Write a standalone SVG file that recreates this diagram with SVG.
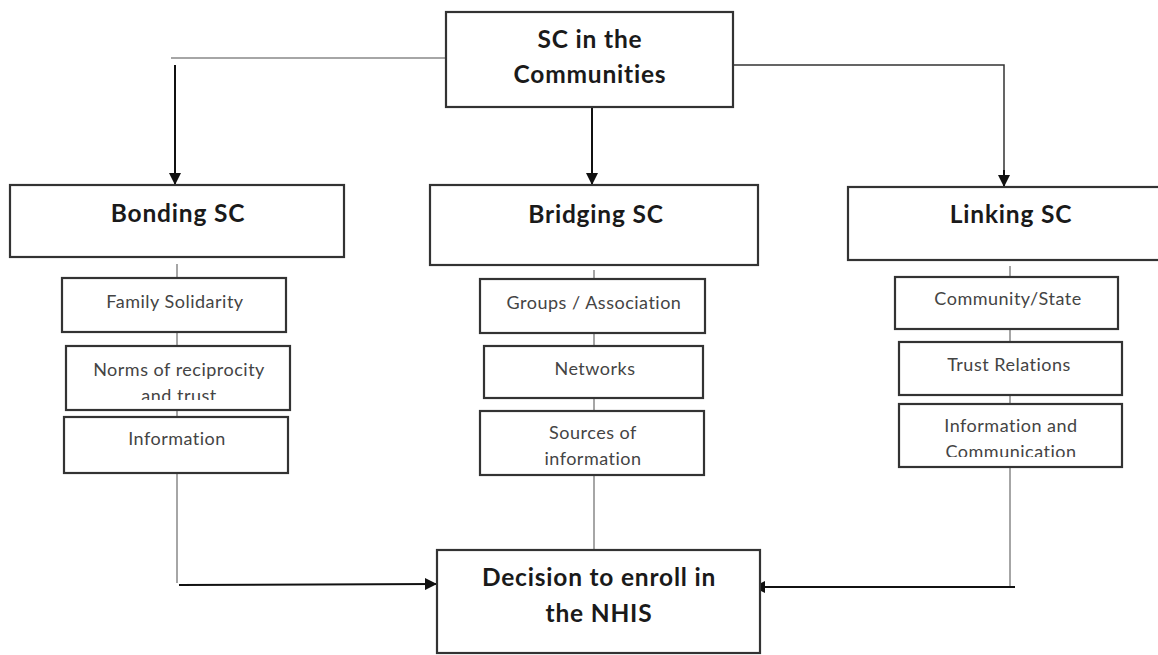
<svg xmlns="http://www.w3.org/2000/svg" width="1158" height="655" viewBox="0 0 1158 655">
  <style>
    .box { fill: #fff; stroke: #333; stroke-width: 2.2; }
    .title { font-family: Lato, "Open Sans", "Liberation Sans", sans-serif; font-weight: 700; font-size: 24.5px; letter-spacing: 0.8px; fill: #1a1a1a; text-anchor: middle; font-variant-ligatures: none; }
    .item { font-family: Lato, "Open Sans", "Liberation Sans", sans-serif; font-size: 18px; letter-spacing: 0.5px; fill: #444; text-anchor: middle; font-variant-ligatures: none; }
    .thin { fill: none; stroke: #888; stroke-width: 1.5; }
    .arrow { fill: none; stroke: #111; stroke-width: 2; marker-end: url(#head); }
    .rule { fill: none; stroke: #333; stroke-width: 1.5; }
  </style>
  <defs>
    <marker id="head" viewBox="0 0 12 12" refX="11" refY="6" markerWidth="12" markerHeight="12" markerUnits="userSpaceOnUse" orient="auto">
      <path d="M0,0 L12,6 L0,12 Z" fill="#111"/>
    </marker>
    <clipPath id="clipNorms"><rect x="66" y="346" width="224" height="54"/></clipPath>
    <clipPath id="clipInfoComm"><rect x="899" y="404" width="223" height="53"/></clipPath>
  </defs>
  <rect width="1158" height="655" fill="#fff"/>

  <!-- connectors -->
  <g id="connectors">
    <line class="thin" x1="446" y1="58" x2="171" y2="58"/>
    <line class="arrow" x1="175" y1="65" x2="175" y2="184"/>
    <line class="arrow" x1="592" y1="106" x2="592" y2="184"/>
    <polyline class="rule" points="733,65 1004,65 1004,175"/>
    <line class="arrow" x1="1004" y1="170" x2="1004" y2="186"/>

    <line class="thin" x1="177" y1="264" x2="177" y2="278"/>
    <line class="thin" x1="177" y1="332" x2="177" y2="346"/>
    <line class="thin" x1="177" y1="410" x2="177" y2="417"/>
    <line class="thin" x1="177" y1="473" x2="177" y2="583"/>
    <line class="arrow" x1="179" y1="585" x2="436" y2="584"/>

    <line class="thin" x1="594" y1="270" x2="594" y2="279"/>
    <line class="thin" x1="594" y1="333" x2="594" y2="346"/>
    <line class="thin" x1="594" y1="398" x2="594" y2="411"/>
    <line class="thin" x1="594" y1="475" x2="594" y2="552"/>

    <line class="thin" x1="1010" y1="266" x2="1010" y2="277"/>
    <line class="thin" x1="1010" y1="329" x2="1010" y2="342"/>
    <line class="thin" x1="1010" y1="395" x2="1010" y2="404"/>
    <line class="thin" x1="1010" y1="467" x2="1010" y2="587"/>
    <line class="arrow" x1="1015" y1="587" x2="754" y2="587"/>
  </g>

  <!-- top node -->
  <g id="sc-communities">
    <rect class="box" x="446" y="12" width="287" height="95"/>
    <text class="title" x="590" y="48">SC in the</text>
    <text class="title" x="590" y="83">Communities</text>
  </g>

  <!-- Bonding column -->
  <g id="bonding">
    <rect class="box" x="10" y="185" width="334" height="72"/>
    <text class="title" x="178" y="222">Bonding SC</text>
  </g>
  <g id="family-solidarity">
    <rect class="box" x="62" y="278" width="224" height="54"/>
    <text class="item" x="175" y="308">Family Solidarity</text>
  </g>
  <g id="norms">
    <rect class="box" x="66" y="346" width="224" height="64"/>
    <g clip-path="url(#clipNorms)">
      <text class="item" x="179" y="376">Norms of reciprocity</text>
      <text class="item" x="179" y="402">and trust</text>
    </g>
  </g>
  <g id="information">
    <rect class="box" x="64" y="417" width="224" height="56"/>
    <text class="item" x="177" y="445">Information</text>
  </g>

  <!-- Bridging column -->
  <g id="bridging">
    <rect class="box" x="430" y="185" width="328" height="80"/>
    <text class="title" x="596" y="223">Bridging SC</text>
  </g>
  <g id="groups">
    <rect class="box" x="480" y="279" width="225" height="54"/>
    <text class="item" x="594" y="309">Groups / Association</text>
  </g>
  <g id="networks">
    <rect class="box" x="484" y="346" width="219" height="52"/>
    <text class="item" x="595" y="375">Networks</text>
  </g>
  <g id="sources">
    <rect class="box" x="480" y="411" width="224" height="64"/>
    <text class="item" x="593" y="439">Sources of</text>
    <text class="item" x="593" y="465">information</text>
  </g>

  <!-- Linking column -->
  <g id="linking">
    <rect class="box" x="848" y="187" width="314" height="73"/>
    <text class="title" x="1011" y="223">Linking SC</text>
  </g>
  <g id="community-state">
    <rect class="box" x="895" y="277" width="223" height="52"/>
    <text class="item" x="1008" y="305">Community/State</text>
  </g>
  <g id="trust-relations">
    <rect class="box" x="899" y="342" width="223" height="53"/>
    <text class="item" x="1009" y="371">Trust Relations</text>
  </g>
  <g id="info-communication">
    <rect class="box" x="899" y="404" width="223" height="63"/>
    <g clip-path="url(#clipInfoComm)">
      <text class="item" x="1011" y="432">Information and</text>
      <text class="item" x="1011" y="458">Communication</text>
    </g>
  </g>

  <!-- outcome node -->
  <g id="decision">
    <rect class="box" x="437" y="550" width="323" height="103"/>
    <text class="title" x="599" y="586">Decision to enroll in</text>
    <text class="title" x="599" y="622">the NHIS</text>
  </g>
</svg>
